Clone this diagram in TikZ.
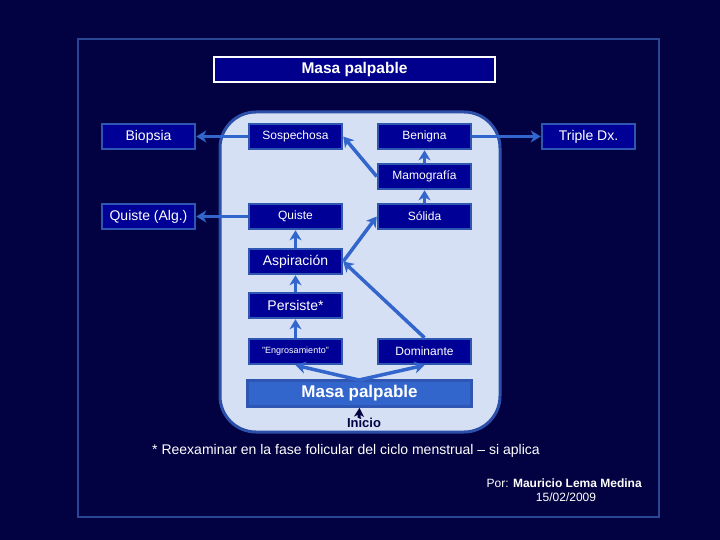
\documentclass[tikz,border=0pt]{standalone}
\usepackage{fontspec}
\setmainfont{Liberation Sans}
\usetikzlibrary{arrows.meta}
\definecolor{bg}{RGB}{2,2,66}
\definecolor{boxfill}{RGB}{0,0,150}
\definecolor{boxline}{RGB}{48,86,180}
\definecolor{arr}{RGB}{51,102,204}
\definecolor{panel}{RGB}{214,224,245}
\definecolor{panelline}{RGB}{44,80,170}
\definecolor{frame}{RGB}{44,70,150}
\definecolor{titlefill}{RGB}{0,0,140}
\tikzset{
  x=1pt, y=-1pt,
  nbox/.style={draw=boxline, line width=2.5pt, fill=boxfill, text=white,
    minimum width=93pt, minimum height=25pt, inner sep=0pt, font=\fontsize{12}{14}\selectfont},
  bigtxt/.style={font=\fontsize{14}{16}\selectfont},
  arrw/.style={draw=arr, line width=3.5pt, -{Stealth[length=10pt,width=12pt,inset=3pt]}},
}
\begin{document}
\begin{tikzpicture}
\fill[bg] (0,0) rectangle (720,540);
\useasboundingbox (0,0) rectangle (720,540);
\draw[frame, line width=2.5pt] (78,39) rectangle (659,517);
% title
\node[draw=white, line width=2.5pt, fill=titlefill, text=white, minimum width=281pt, minimum height=25pt,
  inner sep=0pt, font=\bfseries\fontsize{15.5}{17}\selectfont] (title) at (354.5,69.5) {Masa palpable};
% panel
\draw[panelline, line width=3pt, fill=panel, rounded corners=36pt] (220,112) rectangle (500,432);
% boxes
\node[nbox, bigtxt] (biop) at (148.5,136.5) {Biopsia};
\node[nbox] (sosp) at (295.5,136.5) {Sospechosa};
\node[nbox] (beni) at (424.5,136.5) {Benigna};
\node[nbox, bigtxt] (trip) at (588.5,136.5) {Triple Dx.};
\node[nbox] (mamo) at (424.5,176.5) {Mamografía};
\node[nbox, bigtxt] (qalg) at (148.5,216.5) {Quiste (Alg.)};
\node[nbox] (quis) at (295.5,216.5) {Quiste};
\node[nbox] (soli) at (424.5,216.5) {Sólida};
\node[nbox, bigtxt] (aspi) at (295.5,261.5) {Aspiración};
\node[nbox, bigtxt] (pers) at (295.5,305.5) {Persiste*};
\node[nbox, font=\fontsize{9}{11}\selectfont] (engr) at (295.5,351.5) {"Engrosamiento"};
\node[nbox] (domi) at (424.5,351.5) {Dominante};
\node[draw=boxline, line width=2.5pt, fill=arr, text=white, minimum width=224pt, minimum height=26pt,
  inner sep=0pt, font=\bfseries\fontsize{17}{19}\selectfont] (masa) at (359.5,393.5) {Masa palpable};
\node[text=bg, font=\bfseries\fontsize{13}{15}\selectfont, inner sep=0pt] (inic) at (364,423) {Inicio};
% arrows
\draw[arrw] (sosp.west) -- (biop.east);
\draw[arrw] (beni.east) -- (trip.west);
\draw[arrw] (mamo.west) -- (sosp.east);
\draw[arrw] (mamo.north) -- (beni.south);
\draw[arrw] (soli.north) -- (mamo.south);
\draw[arrw] (quis.west) -- (qalg.east);
\draw[arrw] (aspi.north) -- (quis.south);
\draw[arrw] (aspi.east) -- (soli.west);
\draw[arrw] (domi.north) -- (aspi.east);
\draw[arrw] (pers.north) -- (aspi.south);
\draw[arrw] (engr.north) -- (pers.south);
\coordinate (mtop) at (359,380);
\draw[arrw] (mtop) -- (engr.south);
\draw[arrw] (mtop) -- (domi.south);
\coordinate (ibase) at (359,418);
\draw[draw=bg, line width=3pt, -{Stealth[length=9pt,width=10pt,inset=2.5pt]}] (ibase) -- (masa.south);
% texts
\node[text=white, font=\fontsize{14}{16}\selectfont, inner sep=0pt] (foot) at (346,451)
  {* Reexaminar en la fase folicular del ciclo menstrual -- si aplica};
\node[text=white, font=\fontsize{12}{14}\selectfont, inner sep=0pt, anchor=east] (auth) at (642,483)
  {Por: \textbf{Mauricio Lema Medina}};
\node[text=white, font=\fontsize{12}{14}\selectfont, inner sep=0pt] (date) at (566,497) {15/02/2009};
\end{tikzpicture}
\end{document}
